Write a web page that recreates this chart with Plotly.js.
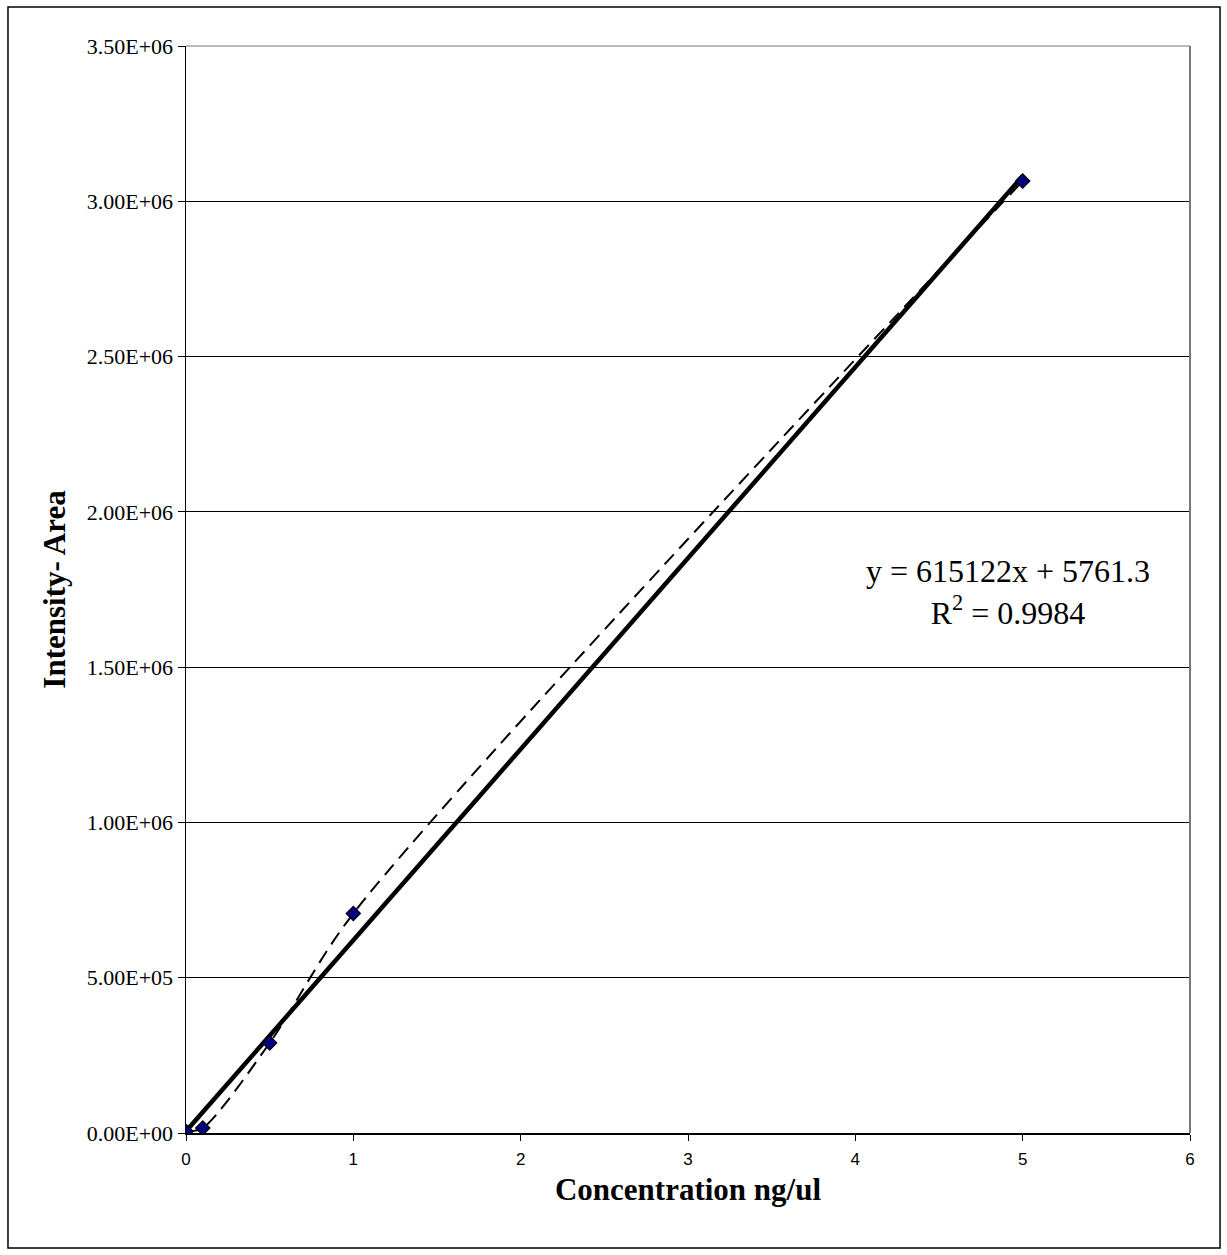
<!DOCTYPE html>
<html>
<head>
<meta charset="utf-8">
<script src="https://cdn.plot.ly/plotly-3.0.1.min.js"></script>
<style>html,body{margin:0;padding:0;background:#fff;}#chart{width:1227px;height:1255px;}</style>
</head>
<body>
<div id="chart"></div>
<script>
// Data
const concentration = [0, 0.1, 0.5, 1, 5];
const intensity = [5000, 16000, 290000, 707000, 3065000];
const slope = 615122;
const intercept = 5761.3;
const rSquared = 0.9984;
const yTickVals = [0, 500000, 1000000, 1500000, 2000000, 2500000, 3000000, 3500000];
const yTickText = ["0.00E+00", "5.00E+05", "1.00E+06", "1.50E+06", "2.00E+06", "2.50E+06", "3.00E+06", "3.50E+06"];
const xTickVals = [0, 1, 2, 3, 4, 5, 6];

const xMin = Math.min(...concentration), xMax = Math.max(...concentration);
const trendX = [xMin, xMax];
const trendY = trendX.map(x => slope * x + intercept);

const traces = [
  {
    x: trendX, y: trendY, type: 'scatter', mode: 'lines',
    line: {color: '#000', width: 4.5}, hoverinfo: 'skip', showlegend: false
  },
  {
    x: concentration, y: intensity, type: 'scatter', mode: 'lines+markers',
    line: {color: '#000', width: 2, dash: '14px,8px', shape: 'spline', smoothing: 0.8},
    marker: {symbol: 'diamond', size: 11, color: '#000080', line: {color: '#000', width: 1.2}},
    showlegend: false
  }
];

const layout = {
  width: 1227, height: 1255,
  paper_bgcolor: '#fff', plot_bgcolor: '#fff',
  margin: {l: 186, r: 37, t: 46, b: 122},
  showlegend: false,
  xaxis: {
    range: [0, 6], tickvals: xTickVals, ticks: 'outside', ticklen: 6, tickcolor: '#000',
    showline: true, linecolor: '#000', linewidth: 1.5, showgrid: false, zeroline: false,
    ticklabelstandoff: 4,
    tickfont: {family: 'Liberation Sans, Arial', size: 17, color: '#000'},
    title: {text: 'Concentration ng/ul', font: {family: 'Liberation Serif, Times New Roman', size: 31, color: '#000', weight: 'bold'}, standoff: 10}
  },
  yaxis: {
    range: [0, 3500000], tickvals: yTickVals, ticktext: yTickText, ticks: 'outside', ticklen: 7, tickcolor: '#000',
    showline: true, linecolor: '#000', linewidth: 1.5, showgrid: true, gridcolor: '#000', gridwidth: 1, zeroline: false,
    tickfont: {family: 'Liberation Serif, Times New Roman', size: 22, color: '#000'},
    title: {text: 'Intensity- Area', font: {family: 'Liberation Serif, Times New Roman', size: 31, color: '#000', weight: 'bold'}, standoff: 12}
  },
  shapes: [
    {type: 'line', xref: 'paper', yref: 'paper', x0: 1, x1: 1, y0: 0, y1: 1, line: {color: '#777', width: 2}},
    {type: 'line', xref: 'paper', yref: 'paper', x0: 0, x1: 1, y0: 1, y1: 1, line: {color: '#777', width: 1}},
    {type: 'rect', xref: 'paper', yref: 'paper', x0: -0.1773, x1: 1.0299, y0: -0.1058, y1: 1.0359, line: {color: '#000', width: 1.5}}
  ],
  annotations: [
    {
      x: 4.91, y: 1742000, xref: 'x', yref: 'y', showarrow: false, align: 'center',
      text: 'y = ' + slope + 'x + ' + intercept + '<br>R<sup>2</sup> = ' + rSquared,
      font: {family: 'Liberation Serif, Times New Roman', size: 32, color: '#000'}
    }
  ]
};

Plotly.newPlot('chart', traces, layout, {displayModeBar: false, staticPlot: true});
</script>
</body>
</html>
